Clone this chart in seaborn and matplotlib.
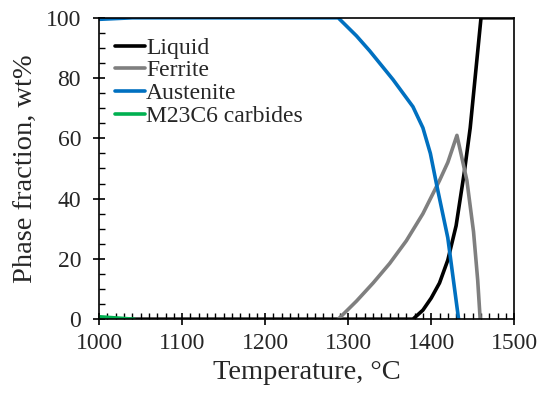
import pandas as pd
import seaborn as sns
import matplotlib.pyplot as plt
from matplotlib.ticker import MultipleLocator

# --- Data ---
liquid_t = [1000, 1378, 1390, 1400, 1410, 1420, 1430, 1440, 1447, 1460, 1500]
liquid_v = [0, 0, 3, 7, 12, 19.6, 31, 49, 63.5, 100, 100]

ferrite_t = [1288, 1310, 1330, 1350, 1370, 1390, 1410, 1420, 1431, 1443, 1451, 1456, 1459]
ferrite_v = [0, 6, 12, 18.5, 26, 35, 46, 52, 61, 46, 29, 13, 0]

austenite_t = [1000, 1040, 1288, 1310, 1326, 1354, 1378, 1390, 1399, 1407, 1420, 1433]
austenite_v = [99.5, 100, 100, 94, 89, 79.5, 70.5, 63.5, 55, 44, 27, 0]

carbide_t = [1000, 1042]
carbide_v = [0.8, 0]

series = {
    "Liquid": (liquid_t, liquid_v, "black"),
    "Ferrite": (ferrite_t, ferrite_v, "#7f7f7f"),
    "Austenite": (austenite_t, austenite_v, "#0070C0"),
    "M23C6 carbides": (carbide_t, carbide_v, "#00B050"),
}

# --- Style ---
sns.set_style("ticks")
plt.rcParams["font.family"] = ["Liberation Serif", "DejaVu Serif"]

fig = plt.figure(figsize=(5.39, 3.96), dpi=100)
ax = fig.add_axes([0.184, 0.194, 0.770, 0.761])

for name, (t, v, c) in series.items():
    df = pd.DataFrame({"T": t, "v": v})
    sns.lineplot(data=df, x="T", y="v", color=c, linewidth=2.6, label=name,
                 ax=ax, sort=False, estimator=None)

ax.set_xlim(1000, 1500)
ax.set_ylim(0, 100)
ax.xaxis.set_major_locator(MultipleLocator(100))
ax.xaxis.set_minor_locator(MultipleLocator(10))
ax.yaxis.set_major_locator(MultipleLocator(20))
ax.yaxis.set_minor_locator(MultipleLocator(5))
ax.tick_params(which="major", direction="inout", length=8, width=1.2,
               labelsize=17, color="black", pad=6)
ax.tick_params(axis="y", which="major", pad=9)
ax.tick_params(which="minor", direction="in", length=4, width=1.0, color="black")
for s in ax.spines.values():
    s.set_color("black")
    s.set_linewidth(1.2)

ax.set_xlabel("Temperature, °C", fontsize=20.5, labelpad=4)
ax.set_ylabel("Phase fraction, wt%", fontsize=20.5, labelpad=6)

ax.legend(loc="upper left", bbox_to_anchor=(-0.015, 1.01), frameon=False,
          fontsize=17, handlelength=1.25, handletextpad=0.05,
          labelspacing=0.05, borderaxespad=0.55)

fig.savefig("out.png", dpi=100)
